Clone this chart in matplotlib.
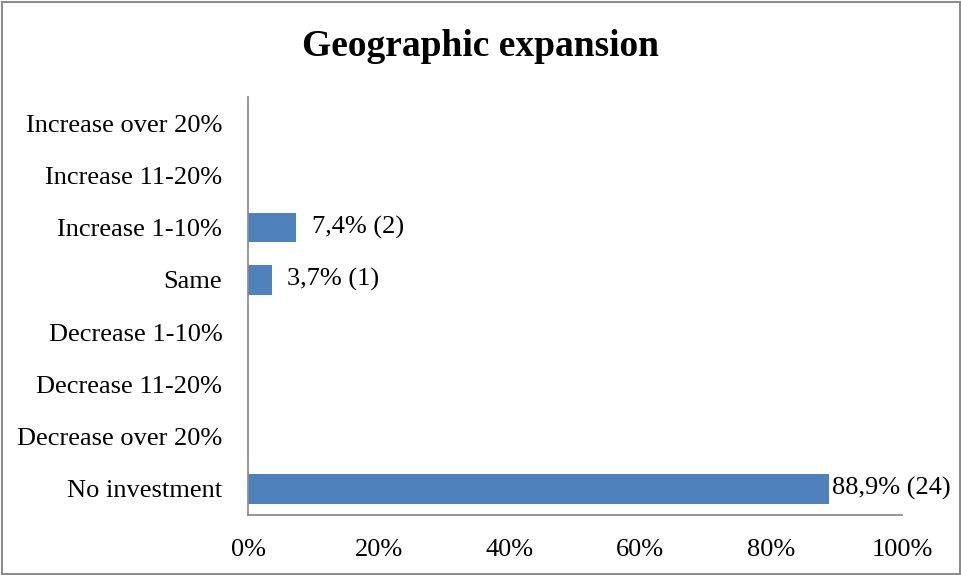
import matplotlib
matplotlib.use("Agg")
import matplotlib.pyplot as plt
from matplotlib.patches import Rectangle
from matplotlib.ticker import FuncFormatter

categories = [
    "No investment",
    "Decrease over 20%",
    "Decrease 11-20%",
    "Decrease 1-10%",
    "Same",
    "Increase 1-10%",
    "Increase 11-20%",
    "Increase over 20%",
]
percentages = [88.9, 0, 0, 0, 3.7, 7.4, 0, 0]
counts = [24, 0, 0, 0, 1, 2, 0, 0]
x_ticks = [0, 20, 40, 60, 80, 100]

plt.rcParams["font.family"] = ["Liberation Serif", "DejaVu Serif"]

W, H = 961, 575
fig = plt.figure(figsize=(W / 100, H / 100), dpi=100)
fig.patch.set_facecolor("white")

# outer frame of the chart area
fig.patches.append(Rectangle((1.5 / W, 1.5 / H), (W - 3) / W, (H - 3) / H,
                             transform=fig.transFigure, fill=False,
                             edgecolor="#8c8c8c", linewidth=1.5))

ax = fig.add_axes([248 / W, 1 - 515 / H, (902 - 248) / W, (515 - 97) / H])

ypos = list(range(len(categories)))
ax.barh(ypos, percentages, height=0.56, color="#4F81BD", linewidth=0)

ax.set_xlim(0, 100)
ax.set_ylim(-0.5, len(categories) - 0.5)
ax.set_yticks(ypos)
ax.set_yticklabels(categories)
ax.set_xticks(x_ticks)
ax.xaxis.set_major_formatter(FuncFormatter(lambda v, p: f"{int(v)}%"))
ax.tick_params(axis="both", length=0, labelsize=19, colors="black")
ax.tick_params(axis="y", pad=18.5)
ax.tick_params(axis="x", pad=17.5)

for side in ("top", "right"):
    ax.spines[side].set_visible(False)
for side in ("left", "bottom"):
    ax.spines[side].set_color("#8c8c8c")
    ax.spines[side].set_linewidth(1.3)

for y, v, c in zip(ypos, percentages, counts):
    if v > 0:
        label = f"{v:.1f}".replace(".", ",") + f"% ({c})"
        offset = 2 if v > 80 else 11
        ax.annotate(label, xy=(v, y), xytext=(offset, 0),
                    textcoords="offset points", va="center", ha="left",
                    fontsize=19, annotation_clip=False)

fig.text(481 / W, 1 - 47 / H, "Geographic expansion", ha="center", va="center",
         fontsize=27, fontweight="bold")

fig.savefig("out.png", dpi=100)
